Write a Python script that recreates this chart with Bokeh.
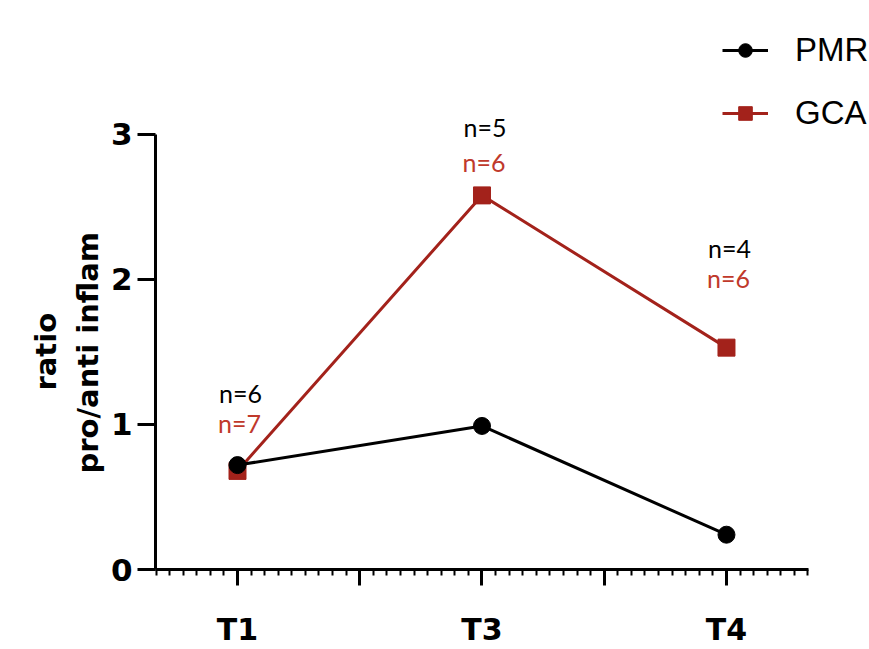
from bokeh.plotting import figure
from bokeh.models import FixedTicker, Legend, LegendItem, Range1d, Title
from bokeh.core.properties import value
from bokeh.embed import file_html
from bokeh.resources import INLINE

# ---------------- data ----------------
timepoints = ["T1", "T3", "T4"]
positions = [1, 2, 3]
pmr_ratio = [0.72, 0.99, 0.24]
gca_ratio = [0.68, 2.58, 1.53]
pmr_n = [6, 5, 4]
gca_n = [7, 6, 6]
y_ticks = [0, 1, 2, 3]

# ---------------- styles ----------------
BLACK = "#000000"
RED = "#a3221b"
RED_TEXT = "#c0392b"
TICK_FONT = "DejaVu Sans"

p = figure(width=869, height=649, output_backend="svg", toolbar_location=None,
           x_range=Range1d(0.6646, 3.585), y_range=Range1d(0, 3.924),
           min_border_left=155, min_border_right=0, min_border_top=0,
           min_border_bottom=80)
p.outline_line_color = None
p.xgrid.grid_line_color = None
p.ygrid.grid_line_color = None
p.background_fill_color = "white"
p.border_fill_color = "white"

# ---- y axis ----
ya = p.yaxis[0]
ya.ticker = FixedTicker(ticks=y_ticks)
ya.bounds = (0, 3)
ya.axis_line_width = 3
ya.major_tick_line_width = 3
ya.major_tick_out = 18
ya.major_tick_in = 0
ya.minor_tick_line_color = None
ya.major_label_standoff = 5
ya.major_label_text_font = TICK_FONT
ya.major_label_text_font_style = "bold"
ya.major_label_text_font_size = "31px"
ya.major_label_text_color = BLACK

# ---- x axis ----
xa = p.xaxis[0]
major_x = [1, 1.5, 2, 2.5, 3]
minor_x = [1 + k * (0.5 / 9) for k in range(-6, 43)]
xa.ticker = FixedTicker(ticks=major_x, minor_ticks=minor_x)
xa.bounds = (0.665, 3.335)
overrides = {1.5: "", 2.5: ""}
for pos, lab in zip(positions, timepoints):
    overrides[pos] = lab
xa.major_label_overrides = overrides
xa.axis_line_width = 3
xa.major_tick_line_width = 3
xa.major_tick_out = 16
xa.major_tick_in = 0
xa.minor_tick_line_width = 2
xa.minor_tick_out = 6
xa.minor_tick_in = 0
xa.major_label_standoff = 26
xa.major_label_text_font = TICK_FONT
xa.major_label_text_font_style = "bold"
xa.major_label_text_font_size = "30px"
xa.major_label_text_color = BLACK

# ---- y axis title (two lines, centred on the 0..3 axis) ----
p.add_layout(Title(text="pro/anti inflam", align="left", offset=96,
                   text_font=TICK_FONT, text_font_style="bold",
                   text_font_size="29px", text_color=BLACK, standoff=6), "left")
p.add_layout(Title(text="ratio", align="left", offset=179,
                   text_font=TICK_FONT, text_font_style="bold",
                   text_font_size="29px", text_color=BLACK, standoff=6), "left")

# ---- series ----
gca_line = p.line(positions, gca_ratio, line_color=RED, line_width=3)
gca_pts = p.scatter(positions, gca_ratio, marker="square", size=17,
                    fill_color=RED, line_color=RED)
pmr_line = p.line(positions, pmr_ratio, line_color=BLACK, line_width=3)
pmr_pts = p.scatter(positions, pmr_ratio, marker="circle", size=17,
                    fill_color=BLACK, line_color=BLACK)

# ---- n= annotations ----
pmr_label_y = [1.214, 3.05, 2.22]
gca_label_y = [1.007, 2.81, 2.01]
p.text(x=positions, y=pmr_label_y, text=[f"n={n}" for n in pmr_n],
       text_font=value("Lato"), text_font_size="25px", text_color=BLACK,
       text_align="center", text_baseline="middle", x_offset=3)
p.text(x=positions, y=gca_label_y, text=[f"n={n}" for n in gca_n],
       text_font=value("Lato"), text_font_size="25px", text_color=RED_TEXT,
       text_align="center", text_baseline="middle", x_offset=2)

# ---- legend ----
legend = Legend(items=[LegendItem(label="PMR", renderers=[pmr_line, pmr_pts]),
                       LegendItem(label="GCA", renderers=[gca_line, gca_pts])],
                location=(567, 437), orientation="vertical",
                glyph_width=46, glyph_height=34, label_standoff=27,
                spacing=25, padding=0, margin=0,
                label_text_font="Liberation Sans", label_text_font_size="33px",
                label_text_color=BLACK,
                border_line_color=None, background_fill_alpha=0)
p.add_layout(legend)

open("out.html", "w").write(file_html(p, INLINE))
